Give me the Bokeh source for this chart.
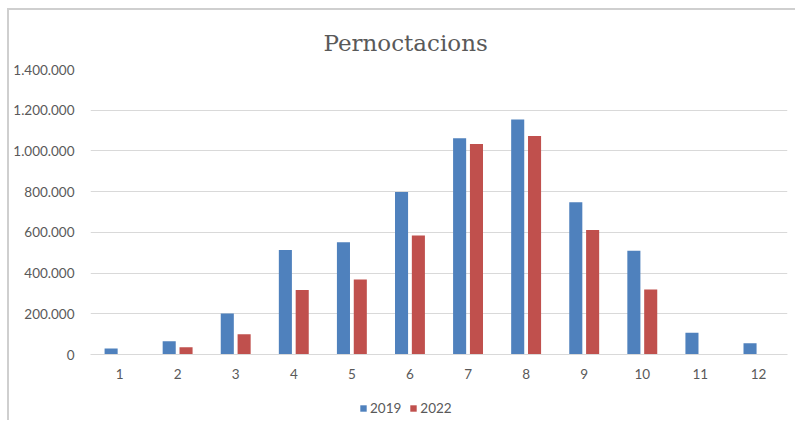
from bokeh.plotting import figure
from bokeh.layouts import column
from bokeh.models import ColumnDataSource, Legend, LegendItem, CustomJSTickFormatter, FixedTicker, Range1d
from bokeh.transform import dodge
from bokeh.embed import file_html
from bokeh.resources import INLINE

months = ["1", "2", "3", "4", "5", "6", "7", "8", "9", "10", "11", "12"]
v2019 = [30000, 65000, 202000, 513000, 552000, 798000, 1062000, 1154000, 748000, 510000, 107000, 55000]
v2022 = [0, 36000, 99000, 317000, 368000, 584000, 1034000, 1073000, 611000, 319000, 0, 0]
series = ["2019", "2022"]
colors = ["#4F81BD", "#C0504D"]
yticks = [0, 200000, 400000, 600000, 800000, 1000000, 1200000, 1400000]

src = ColumnDataSource(dict(m=months, a=v2019, b=v2022))

p = figure(x_range=months, y_range=Range1d(0, 1400000), width=786, height=380,
           output_backend="svg", toolbar_location=None,
           min_border_left=81, min_border_right=8, min_border_top=59, min_border_bottom=36)

p.vbar(x=dodge("m", -0.145, range=p.x_range), top="a", width=0.225, source=src,
       fill_color=colors[0], line_color=None)
p.vbar(x=dodge("m", 0.145, range=p.x_range), top="b", width=0.225, source=src,
       fill_color=colors[1], line_color=None)

p.title.text = "Pernoctacions"
p.title.align = "left"
p.title.text_font = "DejaVu Serif"
p.title.text_font_size = "23px"
p.title.text_font_style = "normal"
p.title.text_color = "#595959"
p.title.offset = 233
p.title.standoff = 28

p.outline_line_color = None
p.xgrid.grid_line_color = None
p.ygrid.grid_line_color = "#d9d9d9"
p.ygrid.grid_line_width = 1

p.yaxis.ticker = FixedTicker(ticks=yticks)
p.yaxis.formatter = CustomJSTickFormatter(code="return tick.toString().replace(/\\B(?=(\\d{3})+(?!\\d))/g, '.');")
for ax in (p.xaxis, p.yaxis):
    ax.major_tick_line_color = None
    ax.minor_tick_line_color = None
    ax.major_label_text_color = "#595959"
    ax.major_label_text_font = "Lato"
    ax.major_label_text_font_size = "13.5px"
p.yaxis.axis_line_color = None
p.xaxis.axis_line_color = "#d9d9d9"
p.yaxis.major_label_standoff = 10
p.xaxis.major_label_standoff = 8
p.x_range.range_padding = 0

# legend strip (anchor glyphs sit outside its visible range; only the legend is seen)
p2 = figure(width=786, height=30, x_range=Range1d(0, 786), y_range=Range1d(0, 30),
            output_backend="svg", toolbar_location=None, x_axis_type=None, y_axis_type=None,
            min_border_left=0, min_border_right=0, min_border_top=0, min_border_bottom=0)
p2.outline_line_color = None
p2.grid.grid_line_color = None
l1 = p2.vbar(x=[-100], top=[0], width=1, fill_color=colors[0], line_color=None)
l2 = p2.vbar(x=[-100], top=[0], width=1, fill_color=colors[1], line_color=None)
legend = Legend(items=[LegendItem(label=series[0], renderers=[l1]),
                       LegendItem(label=series[1], renderers=[l2])],
                orientation="horizontal", location=(269, 4),
                label_text_font="Lato", label_text_font_size="13.5px", label_text_color="#595959",
                glyph_width=8, glyph_height=8, spacing=8, label_standoff=3,
                border_line_color=None, background_fill_alpha=0, padding=4, margin=0)
p2.add_layout(legend, "center")

layout = column(p, p2, spacing=0)
layout.margin = (8, 0, 0, 7)
layout.styles = {"border-left": "2px solid #cfcfcf", "border-top": "2px solid #cfcfcf",
                 "border-right": "none", "border-bottom": "none",
                 "box-shadow": "none", "outline": "none"}

open("out.html", "w").write(file_html(layout, INLINE))
